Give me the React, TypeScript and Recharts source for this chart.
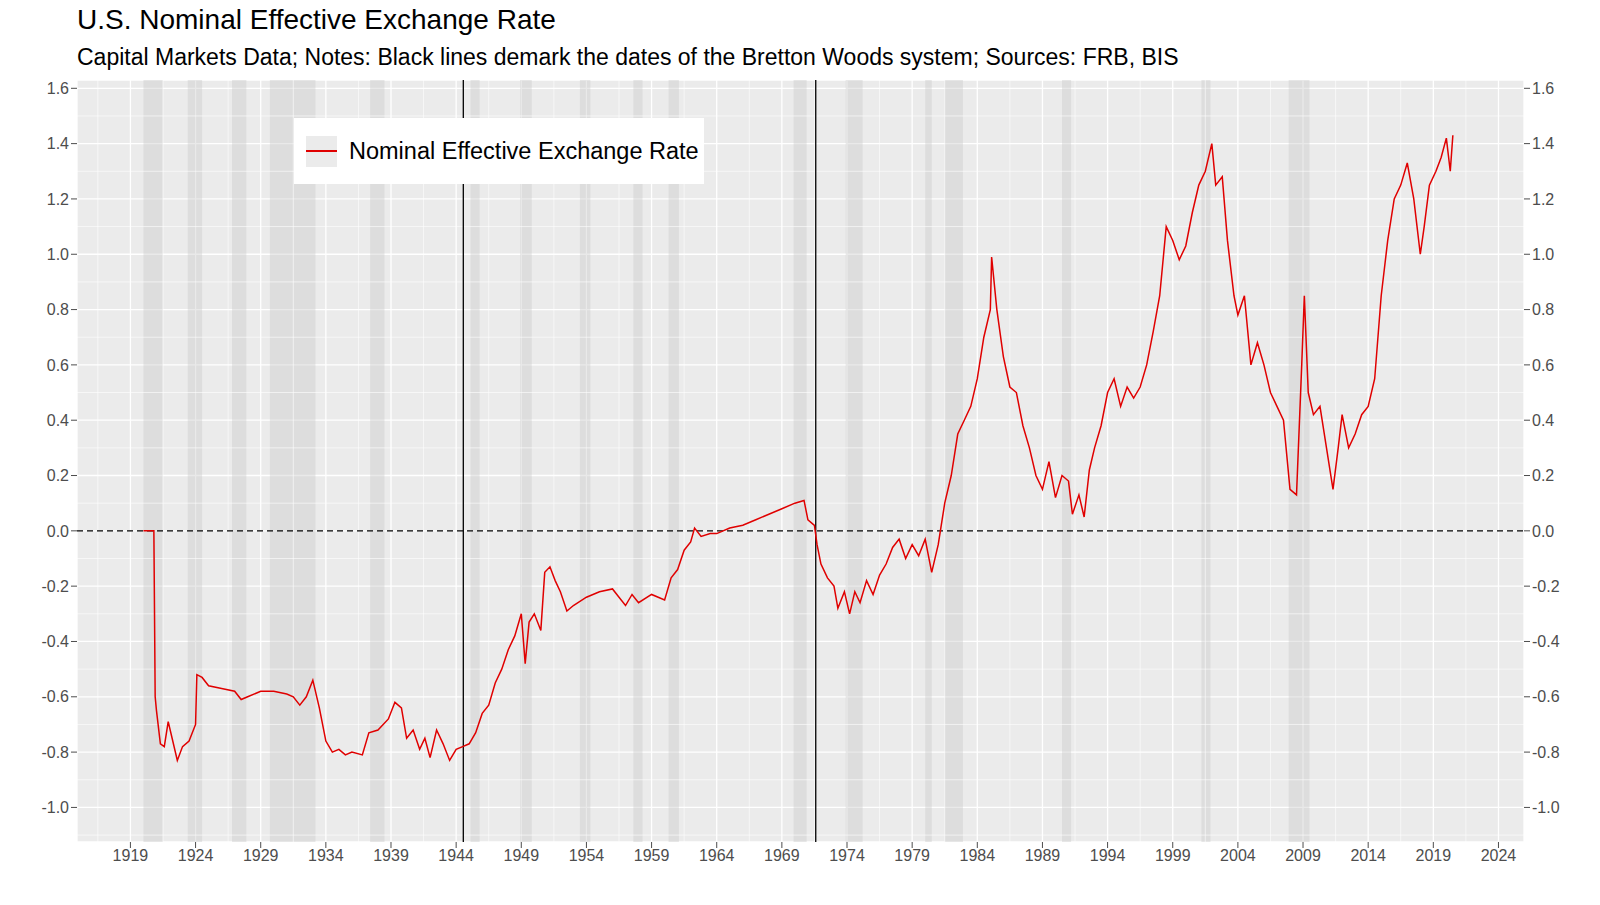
import React from "react";
import { LineChart, Line, XAxis, YAxis, CartesianGrid, ReferenceLine, ReferenceArea } from "recharts";

const years = [1920.0,1920.8,1920.9,1921.0,1921.3,1921.6,1921.9,1922.2,1922.6,1923.0,1923.5,1924.0,1924.1,1924.5,1925,1926,1927,1927.5,1928,1929,1930,1931,1931.5,1932,1932.5,1933,1933.5,1934,1934.5,1935,1935.5,1936,1936.8,1937.3,1938,1938.8,1939.3,1939.8,1940.2,1940.7,1941.2,1941.6,1942,1942.5,1943,1943.5,1944,1944.5,1945,1945.5,1946,1946.5,1947,1947.5,1948,1948.5,1949,1949.3,1949.6,1950,1950.5,1950.8,1951.2,1951.6,1952,1952.5,1953,1954,1955,1956,1956.5,1957,1957.5,1958,1959,1960,1960.5,1961,1961.5,1962,1962.3,1962.8,1963.5,1964,1965,1966,1967,1968,1968.5,1969,1970,1970.7,1971,1971.5,1971.7,1972,1972.5,1973,1973.3,1973.8,1974.2,1974.6,1975,1975.5,1976,1976.5,1977,1977.5,1978,1978.5,1979,1979.5,1980,1980.5,1981,1981.5,1982,1982.5,1983,1983.5,1984,1984.5,1985,1985.1,1985.5,1986,1986.5,1987,1987.5,1988,1988.5,1989,1989.5,1990,1990.5,1991,1991.3,1991.8,1992.2,1992.6,1993,1993.5,1994,1994.5,1995,1995.5,1996,1996.5,1997,1997.5,1998,1998.5,1999,1999.5,2000,2000.5,2001,2001.5,2002,2002.3,2002.8,2003.2,2003.7,2004,2004.5,2005,2005.5,2006,2006.5,2007,2007.5,2008,2008.5,2008.9,2009.1,2009.4,2009.8,2010.3,2010.8,2011.3,2011.7,2012,2012.5,2013,2013.5,2014,2014.5,2015,2015.5,2016,2016.5,2017,2017.5,2018,2018.3,2018.7,2019.2,2019.6,2020,2020.3,2020.5];
const values = [0,0,-0.6,-0.65,-0.77,-0.78,-0.69,-0.75,-0.83,-0.78,-0.76,-0.7,-0.52,-0.53,-0.56,-0.57,-0.58,-0.61,-0.6,-0.58,-0.58,-0.59,-0.6,-0.63,-0.6,-0.54,-0.64,-0.76,-0.8,-0.79,-0.81,-0.8,-0.81,-0.73,-0.72,-0.68,-0.62,-0.64,-0.75,-0.72,-0.79,-0.75,-0.82,-0.72,-0.77,-0.83,-0.79,-0.78,-0.77,-0.73,-0.66,-0.63,-0.55,-0.5,-0.43,-0.38,-0.3,-0.48,-0.33,-0.3,-0.36,-0.15,-0.13,-0.18,-0.22,-0.29,-0.27,-0.24,-0.22,-0.21,-0.24,-0.27,-0.23,-0.26,-0.23,-0.25,-0.17,-0.14,-0.07,-0.04,0.01,-0.02,-0.01,-0.01,0.01,0.02,0.04,0.06,0.07,0.08,0.1,0.11,0.04,0.02,-0.05,-0.12,-0.17,-0.2,-0.28,-0.22,-0.3,-0.22,-0.26,-0.18,-0.23,-0.16,-0.12,-0.06,-0.03,-0.1,-0.05,-0.09,-0.03,-0.15,-0.05,0.1,0.2,0.35,0.4,0.45,0.55,0.7,0.8,0.99,0.8,0.63,0.52,0.5,0.38,0.3,0.2,0.15,0.25,0.12,0.2,0.18,0.06,0.13,0.05,0.22,0.3,0.38,0.5,0.55,0.45,0.52,0.48,0.52,0.6,0.72,0.85,1.1,1.05,0.98,1.03,1.15,1.25,1.3,1.4,1.25,1.28,1.05,0.85,0.78,0.85,0.6,0.68,0.6,0.5,0.45,0.4,0.15,0.13,0.6,0.85,0.5,0.42,0.45,0.3,0.15,0.3,0.42,0.3,0.35,0.42,0.45,0.55,0.85,1.05,1.2,1.25,1.33,1.2,1.0,1.1,1.25,1.3,1.35,1.42,1.3,1.43];
const recessions: [number, number][] = [[1920,1921.5],[1923.4,1924.5],[1926.8,1927.9],[1929.7,1933.2],[1937.4,1938.5],[1945.1,1945.8],[1948.9,1949.8],[1953.5,1954.3],[1957.6,1958.3],[1960.3,1961.1],[1969.9,1970.9],[1973.9,1975.2],[1980.0,1980.5],[1981.5,1982.9],[1990.5,1991.2],[2001.2,2001.9],[2007.9,2009.5]];
const xTicks = [1919,1924,1929,1934,1939,1944,1949,1954,1959,1964,1969,1974,1979,1984,1989,1994,1999,2004,2009,2014,2019,2024];
const yTicks = [-1.0,-0.8,-0.6,-0.4,-0.2,0,0.2,0.4,0.6,0.8,1.0,1.2,1.4,1.6];
const brettonWoods = [1944.55, 1971.6];

const data = years.map((y, i) => ({ year: y, v: values[i] }));
const xMinor = xTicks.map((t) => t - 2.5);
const yMinor = yTicks.map((t) => t - 0.1);
const font = "'Liberation Sans', Arial, sans-serif";
const tick = { fill: "#4d4d4d", fontSize: 16, fontFamily: font };

export default function App() {
  return (
    <div style={{ position: "absolute", left: 0, top: 0, width: 1600, height: 905, background: "#fff", fontFamily: font }}>
      <div style={{ position: "absolute", left: 77, top: 4, fontSize: 28, color: "#000" }}>U.S. Nominal Effective Exchange Rate</div>
      <div style={{ position: "absolute", left: 77, top: 44, fontSize: 23, color: "#000" }}>Capital Markets Data; Notes: Black lines demark the dates of the Bretton Woods system; Sources: FRB, BIS</div>
      <LineChart width={1600} height={905} data={data} margin={{ left: 30, right: 18, top: 80, bottom: 18 }} style={{ position: "absolute", left: 2, top: 0 }}>
        {xMinor.map((x) => <ReferenceLine key={"xm" + x} x={x} yAxisId="l" stroke="#fff" strokeWidth={0.6} ifOverflow="hidden" />)}
        {yMinor.map((y) => <ReferenceLine key={"ym" + y} y={y} yAxisId="l" stroke="#fff" strokeWidth={0.6} ifOverflow="hidden" />)}
        <CartesianGrid stroke="#fff" strokeWidth={1.3} fill="#ebebeb" yAxisId="l" />
        <XAxis dataKey="year" type="number" domain={[1914.9, 2025.96]} ticks={xTicks} tick={tick} tickLine={{ stroke: "#4d4d4d" }} axisLine={false} height={45} interval={0} allowDataOverflow />
        <YAxis yAxisId="l" domain={[-1.125, 1.63]} ticks={yTicks} tickFormatter={(v) => v.toFixed(1)} tick={tick} tickLine={{ stroke: "#4d4d4d" }} axisLine={false} width={45} allowDataOverflow />
        <YAxis yAxisId="r" orientation="right" domain={[-1.125, 1.63]} ticks={yTicks} tickFormatter={(v) => v.toFixed(1)} tick={tick} tickLine={{ stroke: "#4d4d4d" }} axisLine={false} width={60} allowDataOverflow />
        <ReferenceLine y={0} yAxisId="l" stroke="#000" strokeDasharray="6 4" strokeWidth={1.3} />
        {brettonWoods.map((x) => <ReferenceLine key={"bw" + x} x={x} yAxisId="l" stroke="#000" strokeWidth={1.3} />)}
        <Line yAxisId="l" dataKey="v" name="Nominal Effective Exchange Rate" stroke="#e00000" strokeWidth={1.5} dot={false} isAnimationActive={false} />
        {recessions.map(([a, b]) => <ReferenceArea key={"r" + a} x1={a} x2={b} yAxisId="l" fill="#c8c8c8" fillOpacity={0.4} stroke="none" ifOverflow="hidden" />)}
      </LineChart>
      <div style={{ position: "absolute", left: 294, top: 118, width: 410, height: 66, background: "#fff", display: "flex", alignItems: "center", boxSizing: "border-box", paddingLeft: 12, fontSize: 23.5 }}>
        <div style={{ width: 31, height: 31, background: "#ebebeb", display: "flex", alignItems: "center" }}><div style={{ width: 31, height: 2, background: "#e00000" }} /></div>
        <span style={{ marginLeft: 12, color: "#000" }}>Nominal Effective Exchange Rate</span>
      </div>
    </div>
  );
}
